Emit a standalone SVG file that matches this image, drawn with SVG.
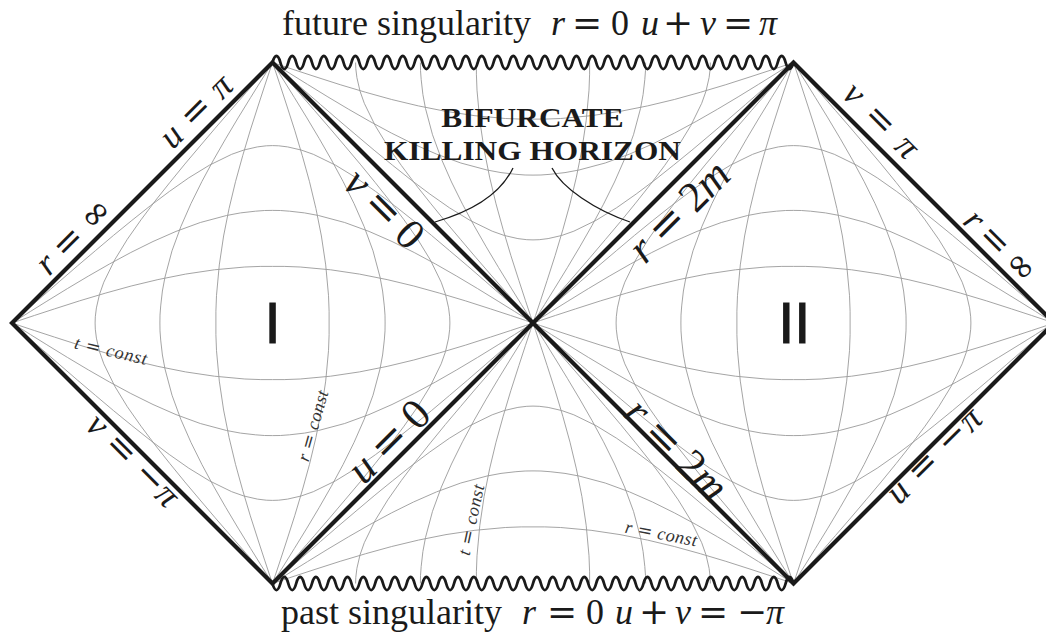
<svg xmlns="http://www.w3.org/2000/svg" width="1046" height="635" viewBox="0 0 1046 635">
<style>
.g{fill:none;stroke:#9a9a9a;stroke-width:0.9}
.edge{fill:none;stroke:#1a1a1a;stroke-width:4.2;stroke-linejoin:miter}
.wave{fill:none;stroke:#1a1a1a;stroke-width:2.8}
.conn{fill:none;stroke:#1a1a1a;stroke-width:1.3}
.ttl{font-family:"Liberation Serif",serif;font-size:36px;fill:#1a1a1a}
.mi{font-style:italic}
.op{font-family:"DejaVu Serif",serif}
.bk{font-family:"Liberation Serif",serif;font-weight:bold;font-size:28px;fill:#1a1a1a;text-anchor:middle}
.lb{font-family:"Liberation Serif",serif;fill:#1a1a1a;text-anchor:middle}
.s34{font-size:36px}
.s40{font-size:43px}
.sm{font-family:"Liberation Serif",serif;font-style:italic;font-size:18px;fill:#333;text-anchor:middle}
.rn{font-family:"Liberation Sans",sans-serif;font-size:58px;fill:#1a1a1a;stroke:#1a1a1a;stroke-width:1;text-anchor:middle}
</style>
<defs>
<g id="rhalf" class="g">
<polyline points="272.5,62.5 275.1,70.1 280.1,85.1 286.6,105 294.7,130.2 302.3,155.7 309.5,181.7 315.9,208.4 321.4,236 325.7,264.9 328.5,295.3 329.1,311.3 329.1,323 329.1,334.7 328.5,350.7 325.7,381.1 321.4,410 315.9,437.6 309.5,464.3 302.3,490.3 294.7,515.8 286.6,541 280.1,560.9 275.1,575.9 272.5,583.5"/>
<polyline points="272.5,62.5 276.4,68.8 284.1,81 294.3,97.4 306.9,117.9 319.3,138.7 331.4,159.8 343,181.3 354,203.5 364.1,226.5 373,250.8 380,277 382.6,291 384.3,305.9 385,315.1 385.1,323 385,330.9 384.3,340.1 382.6,355 380,369 373,395.2 364.1,419.5 354,442.5 343,464.7 331.4,486.2 319.3,507.3 306.9,528.1 294.3,548.6 284.1,565 276.4,577.2 272.5,583.5"/>
<polyline points="272.5,62.5 286.6,78.6 299,92.7 314.4,110.4 329.8,128.2 345,146.1 360.2,164.1 375.1,182.4 389.8,200.9 404,219.8 417.7,239.3 430.3,259.9 441.2,282.2 445.5,294.4 448.6,307.9 449.7,316.8 449.9,323 449.7,329.2 448.6,338.1 445.5,351.6 441.2,363.8 430.3,386.1 417.7,406.7 404,426.2 389.8,445.1 375.1,463.6 360.2,481.9 345,499.9 329.8,517.8 314.4,535.6 299,553.3 286.6,567.4 272.5,583.5"/>
</g>
<g id="rI">
<use href="#rhalf"/>
<use href="#rhalf" transform="matrix(-1,0,0,1,545,0)"/>
</g>
<g id="gridI">
<use href="#rI"/>
<use href="#rI" transform="matrix(0,1,1,0,-50.5,50.5)"/>
</g>
<clipPath id="clipTop"><polygon points="533,323 272.5,62.5 793.5,62.5"/></clipPath>
<g id="gridTop" clip-path="url(#clipTop)">
<use href="#gridI" transform="matrix(0,1,1,0,210,-210)"/>
</g>
<path id="wave" class="wave" d="M272.5,62.5 c2.368,-8.7 5.526,-8.7 7.894,0 s5.526,8.7 7.894,0 s5.526,-8.7 7.894,0 s5.526,8.7 7.894,0 s5.526,-8.7 7.894,0 s5.526,8.7 7.894,0 s5.526,-8.7 7.894,0 s5.526,8.7 7.894,0 s5.526,-8.7 7.894,0 s5.526,8.7 7.894,0 s5.526,-8.7 7.894,0 s5.526,8.7 7.894,0 s5.526,-8.7 7.894,0 s5.526,8.7 7.894,0 s5.526,-8.7 7.894,0 s5.526,8.7 7.894,0 s5.526,-8.7 7.894,0 s5.526,8.7 7.894,0 s5.526,-8.7 7.894,0 s5.526,8.7 7.894,0 s5.526,-8.7 7.894,0 s5.526,8.7 7.894,0 s5.526,-8.7 7.894,0 s5.526,8.7 7.894,0 s5.526,-8.7 7.894,0 s5.526,8.7 7.894,0 s5.526,-8.7 7.894,0 s5.526,8.7 7.894,0 s5.526,-8.7 7.894,0 s5.526,8.7 7.894,0 s5.526,-8.7 7.894,0 s5.526,8.7 7.894,0 s5.526,-8.7 7.894,0 s5.526,8.7 7.894,0 s5.526,-8.7 7.894,0 s5.526,8.7 7.894,0 s5.526,-8.7 7.894,0 s5.526,8.7 7.894,0 s5.526,-8.7 7.894,0 s5.526,8.7 7.894,0 s5.526,-8.7 7.894,0 s5.526,8.7 7.894,0 s5.526,-8.7 7.894,0 s5.526,8.7 7.894,0 s5.526,-8.7 7.894,0 s5.526,8.7 7.894,0 s5.526,-8.7 7.894,0 s5.526,8.7 7.894,0 s5.526,-8.7 7.894,0 s5.526,8.7 7.894,0 s5.526,-8.7 7.894,0 s5.526,8.7 7.894,0 s5.526,-8.7 7.894,0 s5.526,8.7 7.894,0 s5.526,-8.7 7.894,0 s5.526,8.7 7.894,0 s5.526,-8.7 7.894,0 s5.526,8.7 7.894,0 s5.526,-8.7 7.894,0 s5.526,8.7 7.894,0 s5.526,-8.7 7.894,0 s5.526,8.7 7.894,0 s5.526,-8.7 7.894,0 s5.526,8.7 7.894,0 s5.526,-8.7 7.894,0 s5.526,8.7 7.894,0"/>
</defs>
<rect width="1046" height="635" fill="#fff"/>

<g id="region-I">
<use href="#gridI"/>
<text class="rn" x="272.5" y="343.3">I</text>
<text class="sm" transform="translate(109.5,356.5) rotate(13)" textLength="74">t <tspan class="op" font-style="normal">=</tspan> const</text>
<text class="sm" transform="translate(318.5,427.4) rotate(-74)" textLength="73">r <tspan class="op" font-style="normal">=</tspan> const</text>
</g>

<g id="region-II">
<use href="#gridI" transform="matrix(-1,0,0,1,1066,0)"/>
<text class="rn" x="794.3" y="343.3">II</text>
</g>

<g id="future-interior">
<use href="#gridTop"/>
</g>

<g id="past-interior">
<use href="#gridTop" transform="matrix(1,0,0,-1,0,646)"/>
<text class="sm" transform="translate(477,521) rotate(-78)" textLength="72">t <tspan class="op" font-style="normal">=</tspan> const</text>
<text class="sm" transform="translate(660,539.5) rotate(11)" textLength="73">r <tspan class="op" font-style="normal">=</tspan> const</text>
</g>

<g id="boundaries">
<polygon class="edge" points="12,323 272.5,62.5 533,323 272.5,583.5"/>
<polygon class="edge" points="533,323 793.5,62.5 1054,323 793.5,583.5"/>
<use href="#wave"/>
<use href="#wave" transform="matrix(1,0,0,-1,0,646)"/>
</g>

<g id="edge-labels">
<text class="lb s34" transform="translate(81.6,244.1) rotate(-45)" textLength="92"><tspan class="mi">r</tspan> <tspan class="op">=</tspan> <tspan class="op">∞</tspan></text>
<text class="lb s34" transform="translate(203.8,119.1) rotate(-45)" textLength="88"><tspan class="mi">u</tspan> <tspan class="op">=</tspan> <tspan class="mi">π</tspan></text>
<text class="lb s40" transform="translate(374.5,218.6) rotate(45)" textLength="94"><tspan class="mi">v</tspan> <tspan class="op">=</tspan> 0</text>
<text class="lb s34" transform="translate(873.2,128.3) rotate(45)" textLength="92"><tspan class="mi">v</tspan> <tspan class="op">=</tspan> <tspan class="mi">π</tspan></text>
<text class="lb s34" transform="translate(992.6,253.9) rotate(45)" textLength="88"><tspan class="mi">r</tspan> <tspan class="op">=</tspan> <tspan class="op">∞</tspan></text>
<text class="lb s40" transform="translate(688.8,221.1) rotate(-45)" textLength="124"><tspan class="mi">r</tspan> <tspan class="op">=</tspan> 2<tspan class="mi">m</tspan></text>
<text class="lb s40" transform="translate(398.6,451.1) rotate(-45)" textLength="98"><tspan class="mi">u</tspan> <tspan class="op">=</tspan> 0</text>
<text class="lb s34" transform="translate(125,468.3) rotate(45)" textLength="116"><tspan class="mi">v</tspan> <tspan class="op">=</tspan> <tspan class="op">−</tspan><tspan class="mi">π</tspan></text>
<text class="lb s40" transform="translate(666.6,459.5) rotate(45)" textLength="126"><tspan class="mi">r</tspan> <tspan class="op">=</tspan> 2<tspan class="mi">m</tspan></text>
<text class="lb s34" transform="translate(941.8,463.3) rotate(-45)" textLength="120"><tspan class="mi">u</tspan> <tspan class="op">=</tspan> <tspan class="op">−</tspan><tspan class="mi">π</tspan></text>
</g>

<g id="titles">
<text class="ttl" y="35"><tspan x="282">future singularity</tspan><tspan x="551" class="mi">r</tspan><tspan x="572" class="op">=</tspan><tspan x="611">0</tspan><tspan x="641" class="mi">u</tspan><tspan x="663" class="op">+</tspan><tspan x="700" class="mi">v</tspan><tspan x="723" class="op">=</tspan><tspan x="759" class="mi">π</tspan></text>
<text class="ttl" y="624"><tspan x="281">past singularity</tspan><tspan x="522" class="mi">r</tspan><tspan x="547" class="op">=</tspan><tspan x="586">0</tspan><tspan x="615" class="mi">u</tspan><tspan x="639" class="op">+</tspan><tspan x="675" class="mi">v</tspan><tspan x="698" class="op">=</tspan><tspan x="737" class="op">−</tspan><tspan x="766" class="mi">π</tspan></text>
</g>

<g id="horizon-label">
<text class="bk" transform="translate(532.5,126.7) scale(1.12,1)">BIFURCATE</text>
<text class="bk" transform="translate(532.5,160) scale(1.12,1)">KILLING HORIZON</text>
</g>

<g id="connectors">
<path class="conn" d="M513,168 C500,195 470,212 435,222"/>
<path class="conn" d="M552,168 C562,188 595,210 630,222"/>
</g>
</svg>
